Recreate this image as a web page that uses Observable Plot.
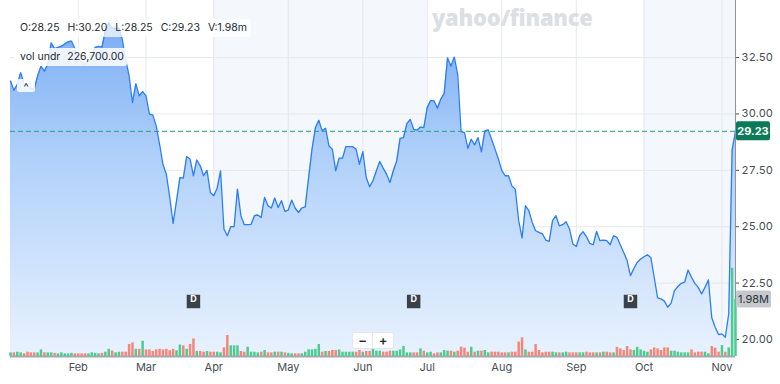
<!DOCTYPE html>
<html><head><meta charset="utf-8">
<script src="https://cdn.jsdelivr.net/npm/d3@7"></script>
<script src="https://cdn.jsdelivr.net/npm/@observablehq/plot@0.6"></script>
<style>
body{margin:0;background:#fff;font-family:Inter,"Noto Sans",sans-serif;}
#wrap{position:relative;width:780px;height:384px;overflow:hidden;}
#wrap svg{position:absolute;left:0;top:0;}
.ov{position:absolute;color:#232a31;font-size:10.5px;white-space:nowrap;}
</style></head><body><div id="wrap"></div><script>
// daily closes (trading-day index 0 = Jan 3 … 214 = Nov 7)
const closes = [31.46,31.05,31.3,31.83,31.35,31.25,31.15,31.1,31.68,32.12,
31.9,32.2,33.15,32.9,32.95,33.0,33.1,33.2,33.23,32.9,
32.5,32.3,32.2,32.35,32.6,32.95,33.0,32.96,33.7,34.04,
33.8,33.8,33.8,33.3,32.4,31.7,30.5,31.34,30.8,30.99,
30.8,29.99,29.96,29.47,28.66,27.77,27.33,26.3,25.15,26.15,
27.18,27.15,28.11,28.0,27.26,27.96,27.7,27.26,27.5,26.52,
26.37,26.71,27.48,24.9,24.6,25.0,25.0,26.67,25.49,25.09,
25.09,25.1,25.49,25.52,25.41,26.3,25.93,25.83,26.27,25.85,
26.15,25.68,25.74,26.18,25.83,25.63,25.83,25.88,27.18,28.44,
29.39,29.72,29.25,29.37,28.58,28.44,27.48,28.04,28.04,28.55,
28.55,28.55,28.44,27.77,28.33,27.18,26.77,27.04,27.48,27.89,
27.6,27.33,26.96,27.48,27.92,28.92,28.95,29.57,29.76,29.32,
29.28,29.42,29.39,30.28,30.6,30.58,30.25,30.65,30.9,32.49,
32.12,32.52,31.76,29.22,29.17,28.48,28.88,28.63,28.95,28.32,
29.25,29.29,28.88,28.45,28.0,27.5,27.26,27.26,26.81,26.66,
25.27,24.5,25.93,25.71,25.19,24.82,24.75,24.68,24.41,24.35,
25.27,25.49,25.04,25.09,25.22,24.9,24.23,24.12,24.6,24.78,
24.56,24.26,24.2,24.79,24.38,24.41,24.38,24.2,24.6,24.53,
24.2,23.86,23.5,22.83,23.15,23.42,23.57,23.67,23.76,23.64,
22.76,21.85,21.8,21.7,21.43,21.61,22.17,22.35,22.49,22.54,
23.08,22.76,22.49,22.31,22.02,22.31,22.64,20.96,20.54,20.22,
20.25,20.1,21.13,28.4,29.23];
// daily volume, millions
const volumes = [0.127,0.127,0.15,0.127,0.093,0.15,0.127,0.127,0.127,0.23,
0.127,0.127,0.127,0.11,0.093,0.127,0.093,0.093,0.11,0.093,
0.093,0.093,0.093,0.093,0.127,0.11,0.093,0.11,0.15,0.25,
0.19,0.127,0.15,0.15,0.15,0.42,0.47,0.25,0.25,0.53,
0.23,0.23,0.174,0.23,0.25,0.23,0.25,0.2,0.25,0.2,
0.4,0.37,0.25,0.42,0.61,0.174,0.174,0.15,0.174,0.15,
0.15,0.15,0.127,0.3,0.73,0.37,0.37,0.37,0.174,0.15,
0.324,0.15,0.15,0.127,0.15,0.208,0.127,0.127,0.15,0.15,
0.15,0.127,0.11,0.093,0.093,0.093,0.093,0.15,0.23,0.23,
0.25,0.417,0.15,0.174,0.174,0.208,0.208,0.23,0.15,0.15,
0.15,0.15,0.15,0.208,0.15,0.174,0.174,0.324,0.185,0.185,
0.15,0.15,0.185,0.185,0.185,0.23,0.35,0.127,0.127,0.127,
0.127,0.266,0.185,0.127,0.15,0.093,0.127,0.127,0.208,0.185,
0.185,0.15,0.185,0.324,0.29,0.15,0.324,0.15,0.185,0.185,
0.208,0.127,0.15,0.15,0.15,0.127,0.127,0.127,0.15,0.15,
0.5,0.65,0.23,0.15,0.15,0.417,0.208,0.127,0.15,0.15,
0.15,0.127,0.127,0.127,0.15,0.127,0.127,0.127,0.127,0.127,
0.15,0.127,0.127,0.127,0.127,0.15,0.15,0.127,0.127,0.32,
0.266,0.208,0.347,0.23,0.208,0.32,0.23,0.185,0.15,0.23,
0.3,0.266,0.208,0.3,0.3,0.185,0.185,0.15,0.127,0.127,
0.127,0.23,0.127,0.15,0.15,0.15,0.093,0.347,0.29,0.15,
0.38,0.15,0.3,3.06,1.98];
const monthTicks = [20,40,60,82,104,123,145,167,187,210];
const monthLabels = ["Feb","Mar","Apr","May","Jun","Jul","Aug","Sep","Oct","Nov"];
const bandStarts = [60,187];
const bandEnds = [123,214];
const dividendIdx = [54,119,183];
const priceTicks = [20,22.5,25,27.5,30,32.5];
const lastOpen = "28.25", lastHigh = "30.20", lastLow = "28.25", lastClose = 29.23, lastVol = "1.98m";
const volUnder = "226,700.00";

const data = closes.map((c,i)=>({i, close:c, vol:volumes[i], up: i===0 || c >= closes[i-1]}));
const W = 780, H = 384, ML = 10, MR = 45, MT = 0, MB = 28;
const yMin = 19.246, yMax = 35.03;
const font = "Inter, 'Noto Sans', sans-serif";

const bands = bandStarts.map((s,k)=>({x1:s, x2:bandEnds[k]}));
const P = Plot.plot({
  width: W, height: H, marginLeft: ML, marginRight: MR, marginTop: MT, marginBottom: MB,
  style: {fontFamily: font, fontSize: "11px", color: "#464e56", background: "white"},
  x: {domain: [0, closes.length-1], ticks: monthTicks, tickFormat: d => monthLabels[monthTicks.indexOf(d)], tickSize: 0, tickPadding: 7, label: null},
  y: {domain: [yMin, yMax], axis: "right", ticks: priceTicks, tickFormat: ".2f", tickSize: 3, tickPadding: 3, label: null},
  marks: [
    Plot.rect(bands, {x1: "x1", x2: "x2", fill: "#f4f7fb"}),
    Plot.ruleY(priceTicks, {stroke: "#e5e8ec"}),
    Plot.ruleX(monthTicks, {stroke: "#e5e8ec"}),
    Plot.areaY(data, {x: "i", y1: yMin, y2: "close", fill: "url(#pgrad)"}),
    Plot.ruleY([lastClose], {stroke: "#1fa57c", strokeDasharray: "5,3"}),
    Plot.lineY(data, {x: "i", y: "close", stroke: "#2a7ef5", strokeWidth: 1.3}),
    Plot.ruleX([closes.length-1], {stroke: "#8d939a"}),
    Plot.ruleY([yMin], {stroke: "#a3a9b0", strokeWidth: 2}),
    Plot.dot(dividendIdx, {x: d => d, frameAnchor: "bottom", dy: -55, symbol: "square", r: 7.6, fill: "#3b4148"}),
    Plot.text(dividendIdx, {x: d => d, frameAnchor: "bottom", dy: -55, text: () => "D", fill: "white", fontWeight: "bold", fontSize: 9})
  ]
});
const V = Plot.plot({
  width: W, height: H, marginLeft: ML, marginRight: MR, marginTop: MT, marginBottom: MB,
  style: {fontFamily: font, fontSize: "11px", background: "transparent"},
  x: {domain: [0, closes.length-1], axis: null},
  y: {domain: [0, 12.36], axis: null},
  marks: [
    Plot.ruleX(data, {x: "i", y1: 0, y2: "vol", stroke: d => d.up ? "#4ecb8f" : "#f6867a", strokeWidth: 2.5})
  ]
});
const wrap = document.getElementById("wrap");
wrap.appendChild(P); wrap.appendChild(V);

// gradient for area
const ps = d3.select(P);
const g = ps.insert("defs", ":first-child").append("linearGradient")
  .attr("id","pgrad").attr("gradientUnits","userSpaceOnUse")
  .attr("x1",0).attr("y1",0).attr("x2",0).attr("y2",H-MB);
g.append("stop").attr("offset","0%").attr("stop-color","#72a7f2");
g.append("stop").attr("offset","45%").attr("stop-color","#b1d1fa");
g.append("stop").attr("offset","100%").attr("stop-color","#e9f2fe");

// price badge
const ys = P.scale("y"), xs = P.scale("x");
const bx = xs.apply(closes.length-1) + 1;
const by = ys.apply(lastClose);
const b1 = ps.append("g");
b1.append("rect").attr("x",bx).attr("y",by-9.5).attr("width",34).attr("height",19).attr("rx",2).attr("fill","#0b7a59");
b1.append("text").attr("x",bx+17).attr("y",by).attr("dy","0.35em").attr("text-anchor","middle")
  .attr("fill","white").attr("font-weight","bold").attr("font-size",11).attr("font-family",font).text(lastClose.toFixed(2));
// volume badge
const vs = d3.select(V), vy = V.scale("y").apply(volumes[volumes.length-1]);
const b2 = vs.append("g");
b2.append("rect").attr("x",bx).attr("y",vy-8.5).attr("width",35).attr("height",17).attr("rx",2).attr("fill","#c5c9ce");
b2.append("text").attr("x",bx+17.5).attr("y",vy).attr("dy","0.35em").attr("text-anchor","middle")
  .attr("fill","#2c3238").attr("font-size",11).attr("font-family",font).text(lastVol.toUpperCase());

// overlays
function ov(html, css){ const d=document.createElement("div"); d.className="ov"; d.innerHTML=html; Object.assign(d.style, css); wrap.appendChild(d); return d; }
ov("yahoo/finance", {left:"432px", top:"2px", fontSize:"22px", fontWeight:"800", color:"#dcdfe3", fontFamily:"'Open Sans', sans-serif", letterSpacing:"-0.3px"});
ov(`<span>O:${lastOpen}</span><span style="margin-left:8px">H:${lastHigh}</span><span style="margin-left:8px">L:${lastLow}</span><span style="margin-left:8px">C:${lastClose.toFixed(2)}</span><span style="margin-left:8px">V:${lastVol}</span>`,
  {left:"14px", top:"19px", height:"18px", lineHeight:"18px", padding:"0 4px 0 6px", background:"rgba(255,255,255,0.72)", borderRadius:"2px"});
ov(`vol undr<span style="margin-left:7px">${volUnder}</span>`,
  {left:"14px", top:"48px", height:"18px", lineHeight:"18px", padding:"0 3px 0 6px", background:"rgba(255,255,255,0.85)", borderRadius:"2px"});
ov("^", {left:"17px", top:"79px", width:"18px", height:"13px", lineHeight:"16px", textAlign:"center", background:"rgba(255,255,255,0.85)", borderRadius:"2px", fontSize:"11px"});
ov(`<span style="display:inline-block;width:19px;text-align:center;border-right:1px solid #e3e6ea">−</span><span style="display:inline-block;width:20px;text-align:center">+</span>`,
  {left:"352px", top:"332px", height:"15px", lineHeight:"15px", background:"#fff", border:"1px solid #e3e6ea", borderRadius:"3px", fontSize:"13px", fontWeight:"600"});
</script></body></html>
